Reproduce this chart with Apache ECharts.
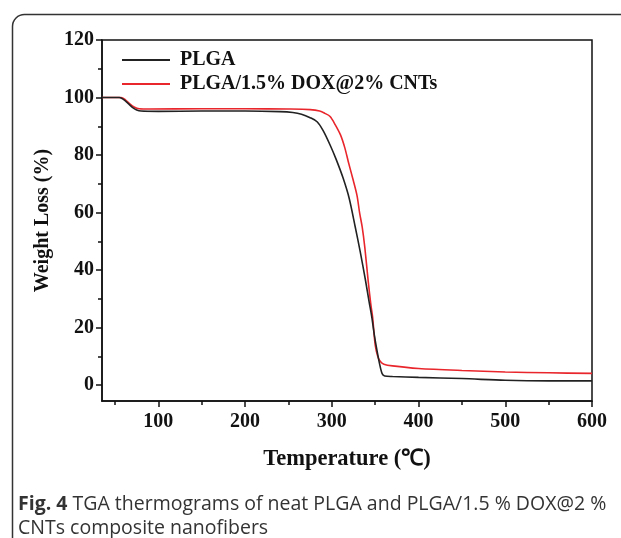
<!DOCTYPE html>
<html>
<head>
<meta charset="utf-8">
<script src="https://cdn.jsdelivr.net/npm/echarts@6/dist/echarts.min.js"></script>
<style>
html,body{margin:0;padding:0;background:#fff;}
#chart{width:621px;height:538px;}
</style>
</head>
<body>
<div id="chart"></div>
<script>
// ---- data ----
const plgaTemp   = [35,55,60,65,70,75,80,100,150,200,240,255,265,275,283,290,298,305,313,320,327,333,338.5,343,346,349,352,355,358,361,370,400,450,500,550,600];
const plgaWeight = [100,100,99.3,98,96.6,95.7,95.3,95.2,95.3,95.3,95.1,94.8,94.2,93,91.6,88.5,83.5,78.5,72,65,55,46,37,29,23.8,17.5,12.2,7.5,4,3.2,3.0,2.7,2.3,1.7,1.5,1.5];
const compTemp   = [35,57,62,67,72,78,90,150,200,250,275,286,292,298,304,310,315,319,324,329,332,335,338,342,345,347,350,353,356,360,370,400,450,500,550,600];
const compWeight = [100,100,99.2,97.8,96.7,96.1,96.0,96.1,96.1,96.0,95.8,95.3,94.5,93.4,90.5,87,82.5,77.7,72,66,60,55,48,36,28,23.8,14,10,8.2,7.3,6.7,5.8,5.1,4.6,4.3,4.1];
const seriesNames = ['PLGA','PLGA/1.5% DOX@2% CNTs'];
const xTicks = [100,200,300,400,500,600];
const xMinorTicks = [50,150,250,350,450,550];
const yTicks = [0,20,40,60,80,100,120];
const yMinorTicks = [10,30,50,70,90,110];
const xName = 'Temperature (℃)';
const yName = 'Weight Loss (%)';
const captionBold = 'Fig. 4';
const captionLine1 = ' TGA thermograms of neat PLGA and PLGA/1.5 % DOX@2 %';
const captionLine2 = 'CNTs composite nanofibers';

const pair = (xs, ys) => xs.map((x, i) => [x, ys[i]]);
const serif = '"Liberation Serif","Times New Roman",serif';
const X_MIN = 35, X_MAX = 600, Y_MIN = -5.5, Y_MAX = 120;
const INK = '#111';

function tickAxis(base, values, len) {
  return Object.assign({
    type: 'value',
    axisLine: {show: false, onZero: false},
    axisTick: {show: true, inside: false, length: len, lineStyle: {color: INK, width: 1.5}, customValues: values},
    axisLabel: {show: false, customValues: values},
    splitLine: {show: false}
  }, base);
}

const chart = echarts.init(document.getElementById('chart'), null, {renderer: 'canvas'});
chart.setOption({
  animation: false,
  backgroundColor: '#fff',
  grid: {left: 102, right: 29, top: 40, bottom: 137, show: true, borderColor: INK, borderWidth: 1.5, backgroundColor: 'transparent'},
  legend: {
    orient: 'vertical', left: 117, top: 45, itemGap: 4, itemWidth: 48, itemHeight: 2,
    textStyle: {fontFamily: serif, fontWeight: 'bold', fontSize: 20, color: INK, padding: [0, 0, 0, 5]},
    data: [{name: seriesNames[0], icon: 'rect'}, {name: seriesNames[1], icon: 'rect'}]
  },
  xAxis: [{
    type: 'value', min: X_MIN, max: X_MAX, position: 'bottom',
    name: xName, nameLocation: 'middle', nameGap: 47,
    nameTextStyle: {fontFamily: serif, fontWeight: 'bold', fontSize: 22.5, color: INK},
    axisLine: {show: true, onZero: false, lineStyle: {color: INK, width: 1.5}},
    axisTick: {show: false},
    axisLabel: {fontFamily: serif, fontWeight: 'bold', fontSize: 20, color: INK, margin: 11, customValues: xTicks},
    splitLine: {show: false}
  },
    tickAxis({min: X_MIN, max: X_MAX, position: 'bottom'}, xTicks, 6),
    tickAxis({min: X_MIN, max: X_MAX, position: 'bottom'}, xMinorTicks, 4)
  ],
  yAxis: [{
    type: 'value', min: Y_MIN, max: Y_MAX, position: 'left',
    name: yName, nameLocation: 'middle', nameGap: 47, nameRotate: 90,
    nameTextStyle: {fontFamily: serif, fontWeight: 'bold', fontSize: 20, color: INK},
    axisLine: {show: true, onZero: false, lineStyle: {color: INK, width: 1.5}},
    axisTick: {show: false},
    axisLabel: {fontFamily: serif, fontWeight: 'bold', fontSize: 20, color: INK, margin: 8, customValues: yTicks},
    splitLine: {show: false}
  },
    tickAxis({min: Y_MIN, max: Y_MAX, position: 'left'}, yTicks, 6),
    tickAxis({min: Y_MIN, max: Y_MAX, position: 'left'}, yMinorTicks, 4)
  ],
  series: [{
    name: seriesNames[0], type: 'line', symbol: 'none', smooth: 0.3,
    lineStyle: {color: '#222', width: 1.6}, itemStyle: {color: '#222'},
    data: pair(plgaTemp, plgaWeight), z: 3
  }, {
    name: seriesNames[1], type: 'line', symbol: 'none', smooth: 0.3,
    lineStyle: {color: '#e8262c', width: 1.6}, itemStyle: {color: '#e8262c'},
    data: pair(compTemp, compWeight), z: 2
  }],
  graphic: [{
    type: 'rect', left: 10, top: 12, silent: true, z: -10,
    shape: {width: 640, height: 560, r: [12, 0, 0, 0]},
    style: {fill: 'none', stroke: '#333', lineWidth: 1.5}
  }, {
    type: 'text', left: 18, top: 494,
    style: {
      text: '{b|' + captionBold + '}' + captionLine1,
      font: '19.5px "Open Sans", sans-serif', fill: '#333',
      rich: {b: {fontFamily: '"Open Sans", sans-serif', fontWeight: 'bold', fontSize: 19.5, fill: '#333'}}
    }
  }, {
    type: 'text', left: 18, top: 518,
    style: {text: captionLine2, font: '19.5px "Open Sans", sans-serif', fill: '#333'}
  }]
});
</script>
</body>
</html>
